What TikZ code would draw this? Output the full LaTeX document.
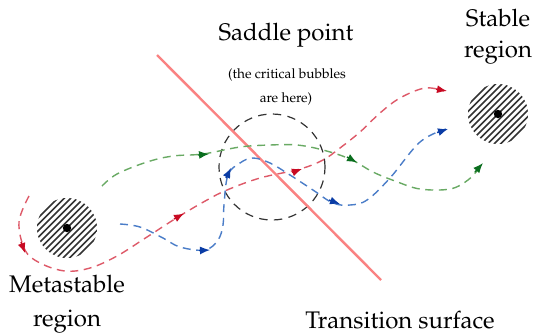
\documentclass[tikz,border=0pt]{standalone}
\usepackage[T1]{fontenc}
\usepackage{mathpazo}
\usetikzlibrary{arrows.meta}
\definecolor{rdash}{RGB}{222,90,105}
\definecolor{rtip}{RGB}{200,10,35}
\definecolor{gdash}{RGB}{105,170,100}
\definecolor{gtip}{RGB}{10,110,30}
\definecolor{bdash}{RGB}{75,125,200}
\definecolor{btip}{RGB}{10,60,165}
\definecolor{surf}{RGB}{250,130,130}
\tikzset{
  x=0.5pt, y=-0.5pt,
  traj/.style={line width=0.7pt, dash pattern=on 4pt off 2.8pt},
  tipline/.style={line width=0.7pt, solid, -{Latex[length=5pt,width=4pt]}},
  lbl/.style={font=\fontsize{12}{15.5}\selectfont, inner sep=0pt, align=center},
  small/.style={font=\fontsize{6.8}{8}\selectfont, inner sep=0pt, anchor=base},
  hatch/.style={line width=0.75pt, black!80},
}
\newcommand\hatchdisk[3]{%
  \begin{scope}
    \clip (#1,#2) circle[radius=30];
    \foreach \k in {-9,...,9}{
      \draw[hatch] ({#1+3.25*\k-40},{#2+3.25*\k+40}) -- ({#1+3.25*\k+40},{#2+3.25*\k-40});
    }
  \end{scope}
  \fill (#1,#2) circle[radius=4.2];
  \coordinate (#3) at (#1,#2);
}
\begin{document}
\begin{tikzpicture}
\useasboundingbox (0,0) rectangle (536,334);
\fill[white] (0,0) rectangle (536,334);

% regions
\hatchdisk{67}{228}{meta}
\hatchdisk{498}{114}{stab}

% saddle circle
\node[draw=black!80, line width=0.6pt, dash pattern=on 4.2pt off 3.2pt, circle, minimum size=53pt, inner sep=0pt] (saddle) at (272,167) {};

% transition surface
\coordinate (s1) at (157,55);
\coordinate (s2) at (381,280);
\draw[surf, line width=1.2pt] (s1) -- (s2);

% red trajectory
\draw[traj, rdash] plot[smooth, tension=0.6] coordinates {(29,196) (19,222) (25,250) (40,263) (65,271) (90,268) (117,256) (147,237) (178,217) (207,200) (227,190) (260,178) (300,169) (323,160) (340,148) (360,132) (380,113) (400,98) (425,88) (444,91)};
\draw[tipline, rtip] (21,242) -- (25,253);
\draw[tipline, rtip] (174,219) -- (184,213.5);
\draw[tipline, rtip] (292,172.5) -- (302,169);
\draw[tipline, rtip] (436,89) -- (447,91);

% green trajectory
\draw[traj, gdash] plot[smooth, tension=0.6] coordinates {(102,186) (117,174) (147,162) (173,156) (203,154) (240,147) (270,145) (297,145) (323,150) (350,159) (373,172) (395,181) (420,189) (450,189) (468,180) (481,166)};
\draw[tipline, gtip] (198,155) -- (209,154);
\draw[tipline, gtip] (347,157) -- (357,162.5);
\draw[tipline, gtip] (475,172) -- (483,163);

% blue trajectory
\draw[traj, bdash] plot[smooth, tension=0.6] coordinates {(120,224) (140,227) (163,238) (180,247) (205,250) (218,240) (223,225) (224,205) (228,175) (240,163) (253,158) (270,163) (290,175) (313,190) (333,203) (350,205) (367,200) (390,178) (420,142) (446,129)};
\draw[tipline, btip] (199,250.5) -- (210,250);
\draw[tipline, btip] (226,178) -- (231,168);
\draw[tipline, btip] (329,200) -- (340,204);
\draw[tipline, btip] (437,132.5) -- (448,129);

% labels
\node[lbl, anchor=base] (saddlelbl) at (286,40) {Saddle point};
\node[small] (crit1) at (287,78) {(the critical bubbles};
\node[small] (crit2) at (286,102) {are here)};
\node[lbl, anchor=base] (stablelbl) at (498,26) {Stable};
\node[lbl, anchor=base] (stablelbl2) at (498,57) {region};
\node[lbl, anchor=base] (metalbl) at (67,292) {Metastable};
\node[lbl, anchor=base] (metalbl2) at (67,326) {region};
\node[lbl, anchor=base] (translbl) at (400,328) {Transition surface};
\end{tikzpicture}
\end{document}
